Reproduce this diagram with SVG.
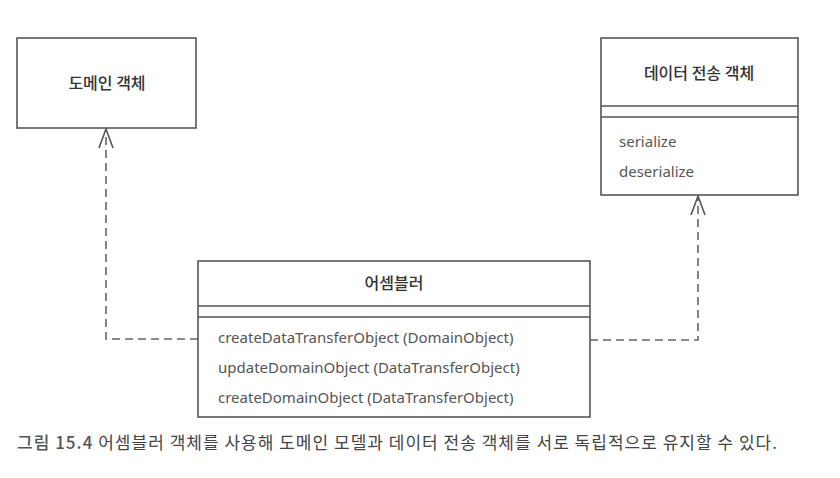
<svg xmlns="http://www.w3.org/2000/svg" width="840" height="478" viewBox="0 0 840 478">
<style>
.box{fill:#fff;stroke:#555;stroke-width:1.6}
.sep{stroke:#555;stroke-width:1.4}
.title{font-family:"Noto Sans CJK KR","Noto Sans",sans-serif;font-size:16px;font-weight:500;fill:#333;text-anchor:middle}
.m{font-family:"Noto Sans","Liberation Sans",sans-serif;font-size:15px;fill:#555}
.dash{fill:none;stroke:#666;stroke-width:1.6;stroke-dasharray:8,5}
.head{fill:none;stroke:#555;stroke-width:1.6}
.cap{font-family:"Noto Sans CJK KR",sans-serif;font-size:17px;fill:#444}
</style>
<rect width="840" height="478" fill="#fff"/>
<g id="connectors">
<polyline class="dash" points="198,339 106,339 106,131"/>
<polyline class="head" points="99,148 106,129 113,148"/>
<polyline class="dash" points="590,340 698,340 698,198"/>
<polyline class="head" points="691,215 698,196 705,215"/>
</g>
<g id="domain">
<rect class="box" x="17" y="38" width="179" height="90"/>
<text class="title" x="107" y="89">도메인 객체</text>
</g>
<g id="dto">
<rect class="box" x="601" y="38" width="197" height="157"/>
<line class="sep" x1="601" y1="106" x2="798" y2="106"/>
<line class="sep" x1="601" y1="117" x2="798" y2="117"/>
<text class="title" x="699" y="79">데이터 전송 객체</text>
<text class="m" x="619" y="147">serialize</text>
<text class="m" x="619" y="177">deserialize</text>
</g>
<g id="assembler">
<rect class="box" x="198" y="261" width="392" height="156"/>
<line class="sep" x1="198" y1="306" x2="590" y2="306"/>
<line class="sep" x1="198" y1="317" x2="590" y2="317"/>
<text class="title" x="394" y="289">어셈블러</text>
<text class="m" x="218" y="343">createDataTransferObject (DomainObject)</text>
<text class="m" x="218" y="373">updateDomainObject (DataTransferObject)</text>
<text class="m" x="218" y="403">createDomainObject (DataTransferObject)</text>
</g>
<text class="cap" x="17" y="449" textLength="760" lengthAdjust="spacing"><tspan font-weight="500" fill="#555">그림 15.4</tspan> 어셈블러 객체를 사용해 도메인 모델과 데이터 전송 객체를 서로 독립적으로 유지할 수 있다.</text>
</svg>
